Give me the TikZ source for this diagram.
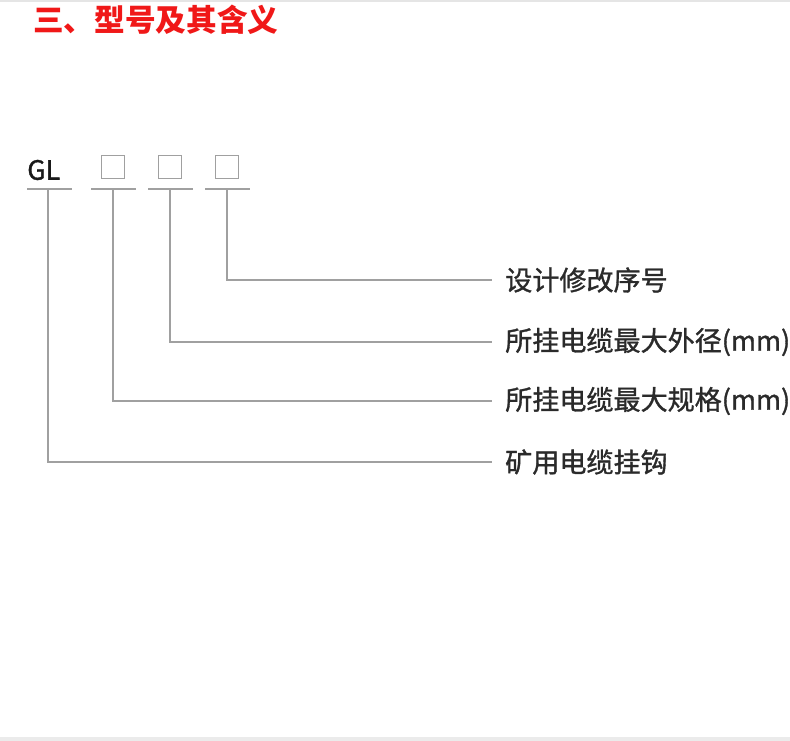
\documentclass[tikz,border=0pt]{standalone}
\usepackage{fontspec}
\setmainfont{Noto Sans CJK SC}
\newfontfamily\cjk{Noto Sans CJK SC}
\newfontfamily\cjkm[FakeBold=1.2]{Noto Sans CJK SC}
\definecolor{titlered}{HTML}{F01818}
\definecolor{linegray}{HTML}{A0A0A0}
\definecolor{txt}{HTML}{2A2A2A}
\tikzset{
  lead/.style={draw=linegray, line width=1.4pt},
  box/.style={draw=linegray, line width=1.2pt, minimum width=17pt, minimum height=17pt, inner sep=0pt},
  lbl/.style={anchor=west, inner sep=0pt, text=txt, font=\cjkm\fontsize{20.3pt}{22pt}\selectfont},
}
\begin{document}
\begin{tikzpicture}[x=0.75pt,y=-0.75pt]
\useasboundingbox (0,0) rectangle (790,741);
\fill[white] (0,0) rectangle (790,741);
\draw[draw=black!10, line width=2pt] (0,1) -- (790,1);
\draw[draw=black!8, line width=2.5pt] (0,739) -- (790,739);
% title
\node[anchor=west, inner sep=0pt, text=titlered, font=\cjk\bfseries\fontsize{23pt}{26pt}\selectfont] (title) at (33,20) {三、型号及其含义};
% code
\node[anchor=west, inner sep=0pt, text=black!90, font=\cjkm\fontsize{20pt}{22pt}\selectfont] (gl) at (27,170) {GL};
\node[box] (b1) at (113,167) {};
\node[box] (b2) at (170,167) {};
\node[box] (b3) at (227,167) {};
% underbars
\draw[lead] (27,189) -- (72,189);
\draw[lead] (91,189) -- (136,189);
\draw[lead] (148,189) -- (193,189);
\draw[lead] (205,189) -- (250,189);
% labels
\node[lbl] (l3) at (505,280) {设计修改序号};
\node[lbl] (l2) at (505,342) {所挂电缆最大外径(mm)};
\node[lbl] (l1) at (505,401) {所挂电缆最大规格(mm)};
\node[lbl] (l0) at (505,462) {矿用电缆挂钩};
% leaders
\coordinate (t0) at (48,189);
\coordinate (t1) at (113,189);
\coordinate (t2) at (170,189);
\coordinate (t3) at (227,189);
\draw[lead] (t3) |- ([xshift=-10pt]l3.west);
\draw[lead] (t2) |- ([xshift=-10pt]l2.west);
\draw[lead] (t1) |- ([xshift=-10pt]l1.west);
\draw[lead] (t0) |- ([xshift=-10pt]l0.west);
\end{tikzpicture}
\end{document}
